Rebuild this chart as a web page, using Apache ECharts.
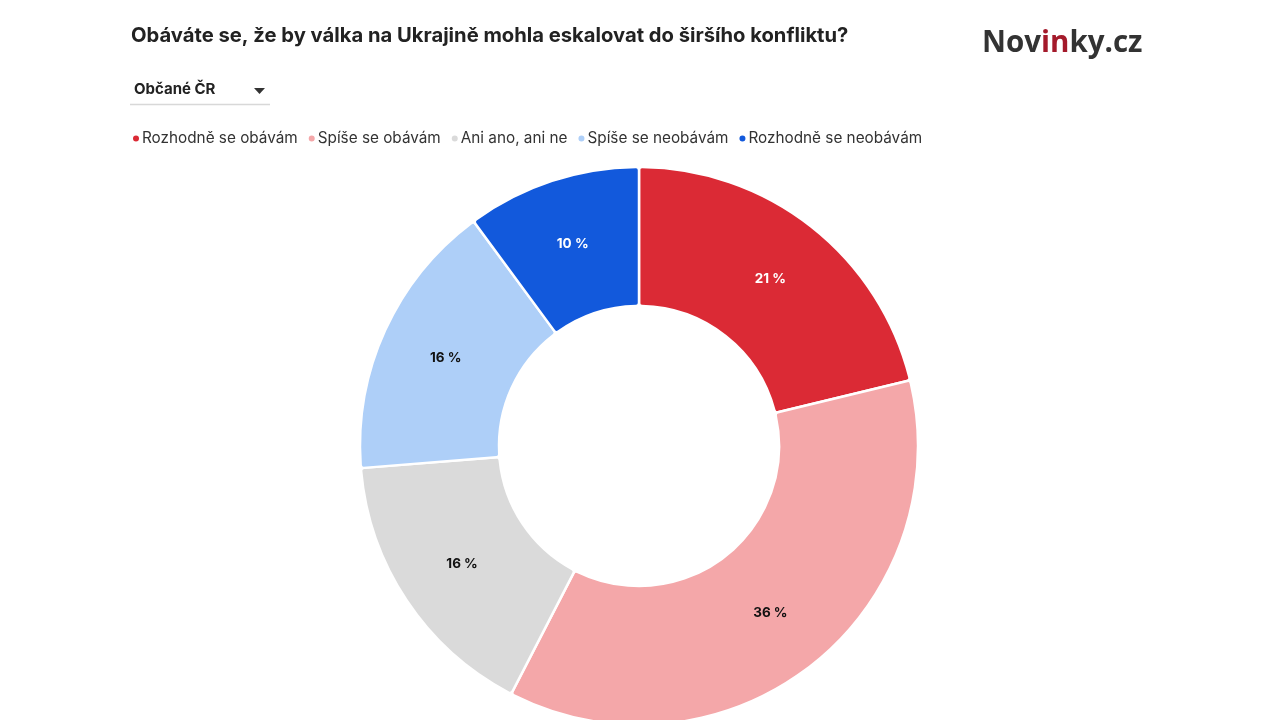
<!DOCTYPE html>
<html>
<head>
<meta charset="utf-8">
<script src="https://cdn.jsdelivr.net/npm/echarts@6/dist/echarts.min.js"></script>
<style>
html,body{margin:0;padding:0;background:#fff;}
#chart{width:1280px;height:720px;}
</style>
</head>
<body>
<div id="chart"></div>
<script>
var categories = ['Rozhodně se obávám', 'Spíše se obávám', 'Ani ano, ani ne', 'Spíše se neobávám', 'Rozhodně se neobávám'];
var values = [21, 36, 16, 16, 10];
var colors = ['#db2a35', '#f4a7a9', '#dadada', '#aecff8', '#1259dc'];
var labelColors = ['#ffffff', '#111111', '#111111', '#111111', '#ffffff'];

var chart = echarts.init(document.getElementById('chart'));
var data = categories.map(function (c, i) {
  return {
    name: c,
    value: values[i],
    itemStyle: { color: colors[i] },
    label: { color: labelColors[i] }
  };
});

chart.setOption({
  animation: false,
  title: {
    text: 'Obáváte se, že by válka na Ukrajině mohla eskalovat do širšího konfliktu?',
    left: 126,
    top: 21,
    textStyle: { fontFamily: 'Inter', fontSize: 20.2, fontWeight: 'bold', color: '#222' }
  },
  legend: {
    data: categories,
    left: 126,
    top: 126,
    icon: 'circle',
    itemWidth: 8,
    itemHeight: 8,
    itemGap: 9,
    textStyle: { fontFamily: 'Inter', fontSize: 15.3, color: '#333', padding: [0, 0, 0, -3] }
  },
  graphic: [
    {
      type: 'text', left: 134, top: 82,
      style: { text: 'Občané ČR', font: 'bold 15px Inter', fill: '#222' }
    },
    {
      type: 'polygon',
      shape: { points: [[254, 88], [265, 88], [259.5, 94]] },
      style: { fill: '#333' }
    },
    {
      type: 'line',
      shape: { x1: 130, y1: 104.5, x2: 270, y2: 104.5 },
      style: { stroke: '#d8d8d8', lineWidth: 1.5 }
    },
    {
      type: 'text', left: 982, top: 29,
      style: {
        text: '{a|Nov}{b|in}{a|ky.cz}',
        rich: {
          a: { font: 'bold 29.5px "Open Sans"', fill: '#333' },
          b: { font: 'bold 29.5px "Open Sans"', fill: '#a41a2b' }
        }
      }
    }
  ],
  series: [{
    type: 'pie',
    center: [639, 446],
    radius: [140, 279],
    startAngle: 90,
    clockwise: true,
    avoidLabelOverlap: false,
    itemStyle: { borderColor: '#fff', borderWidth: 2.5, borderRadius: 3 },
    label: {
      show: true,
      position: 'inside',
      formatter: '{c} %',
      fontFamily: 'Inter',
      fontSize: 13.5,
      fontWeight: 'bold'
    },
    labelLine: { show: false },
    emphasis: { disabled: true },
    data: data
  }]
});
</script>
</body>
</html>
